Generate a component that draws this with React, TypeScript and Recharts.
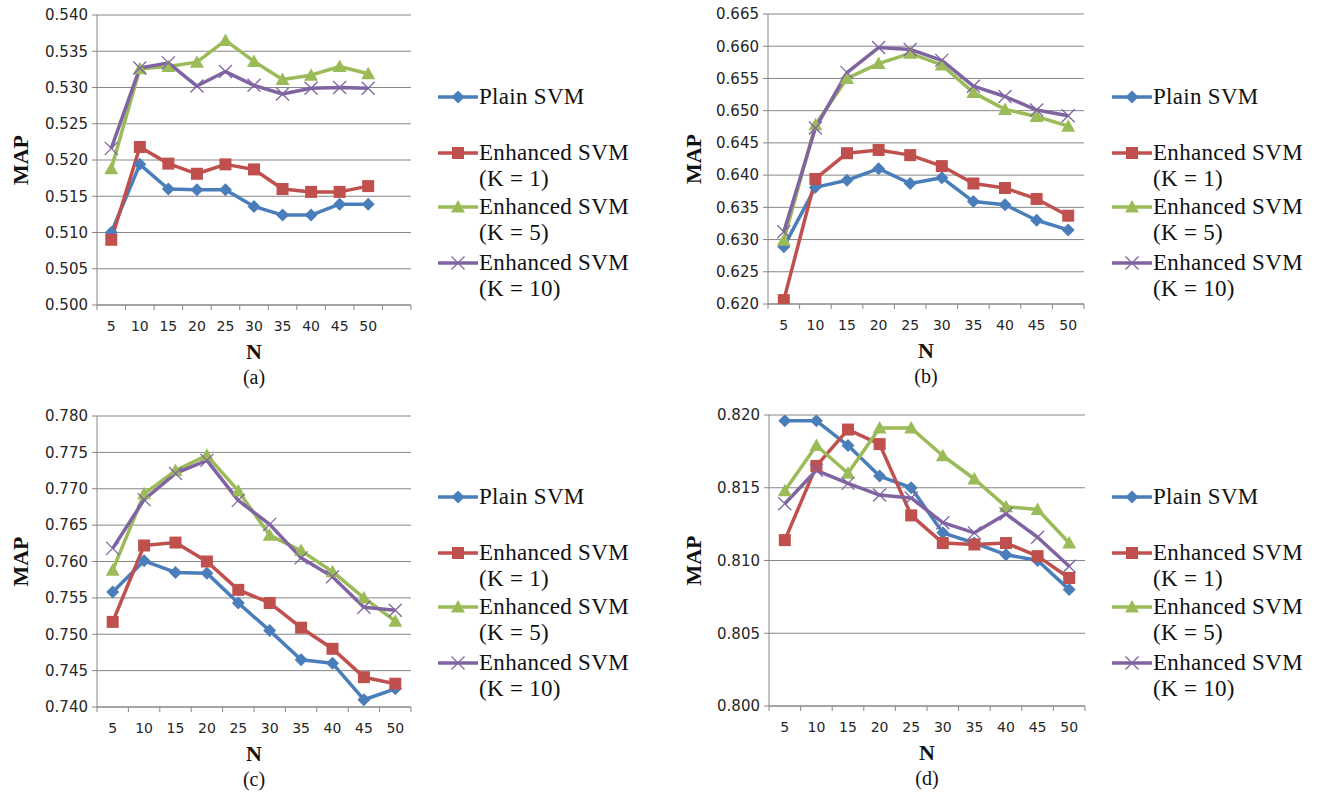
import React from 'react';
import { LineChart, Line, XAxis, YAxis, CartesianGrid } from 'recharts';

// x categories (N)
const nLabels = ['5', '10', '15', '20', '25', '30', '35', '40', '45', '50'];
// chart (a) has one empty slot after 50
const nLabelsA = [...nLabels, ''];

const seriesNames = ['Plain SVM', 'Enhanced SVM (K = 1)', 'Enhanced SVM (K = 5)', 'Enhanced SVM (K = 10)'];
const legendLines = [['Plain SVM'], ['Enhanced SVM', '(K = 1)'], ['Enhanced SVM', '(K = 5)'], ['Enhanced SVM', '(K = 10)']];
const seriesKeys = ['plain', 'k1', 'k5', 'k10'];
const seriesColors = ['#4A7EBB', '#C0504D', '#9BBB59', '#8064A2'];
const seriesMarkers = ['diamond', 'square', 'triangle', 'cross'];

// (a)
const aPlain = [0.5100, 0.5194, 0.5160, 0.5159, 0.5159, 0.5136, 0.5124, 0.5124, 0.5139, 0.5139];
const aK1 = [0.5090, 0.5218, 0.5195, 0.5181, 0.5194, 0.5187, 0.5160, 0.5156, 0.5156, 0.5164];
const aK5 = [0.5188, 0.5326, 0.5329, 0.5335, 0.5365, 0.5336, 0.5311, 0.5317, 0.5329, 0.5319];
const aK10 = [0.5216, 0.5327, 0.5334, 0.5302, 0.5322, 0.5303, 0.5291, 0.5299, 0.5300, 0.5299];
const aTicks = [0.5, 0.505, 0.51, 0.515, 0.52, 0.525, 0.53, 0.535, 0.54];

// (b)
const bPlain = [0.6289, 0.6381, 0.6392, 0.6410, 0.6387, 0.6396, 0.6359, 0.6354, 0.6330, 0.6315];
const bK1 = [0.6206, 0.6394, 0.6434, 0.6439, 0.6431, 0.6414, 0.6387, 0.6380, 0.6363, 0.6337];
const bK5 = [0.6299, 0.6478, 0.6550, 0.6573, 0.6589, 0.6571, 0.6528, 0.6502, 0.6491, 0.6476];
const bK10 = [0.6312, 0.6473, 0.6559, 0.6598, 0.6595, 0.6578, 0.6538, 0.6522, 0.6501, 0.6492];
const bTicks = [0.62, 0.625, 0.63, 0.635, 0.64, 0.645, 0.65, 0.655, 0.66, 0.665];

// (c)
const cPlain = [0.7558, 0.7601, 0.7585, 0.7584, 0.7543, 0.7505, 0.7465, 0.7460, 0.7410, 0.7425];
const cK1 = [0.7517, 0.7622, 0.7626, 0.7600, 0.7561, 0.7543, 0.7509, 0.7480, 0.7441, 0.7432];
const cK5 = [0.7588, 0.7693, 0.7725, 0.7746, 0.7697, 0.7636, 0.7615, 0.7586, 0.7550, 0.7518];
const cK10 = [0.7618, 0.7685, 0.7721, 0.7739, 0.7684, 0.7651, 0.7605, 0.7579, 0.7537, 0.7533];
const cTicks = [0.74, 0.745, 0.75, 0.755, 0.76, 0.765, 0.77, 0.775, 0.78];

// (d)
const dPlain = [0.8196, 0.8196, 0.8179, 0.8158, 0.8150, 0.8119, 0.8112, 0.8104, 0.8100, 0.8080];
const dK1 = [0.8114, 0.8165, 0.8190, 0.8180, 0.8131, 0.8112, 0.8111, 0.8112, 0.8103, 0.8088];
const dK5 = [0.8148, 0.8179, 0.8160, 0.8191, 0.8191, 0.8172, 0.8156, 0.8137, 0.8135, 0.8112];
const dK10 = [0.8139, 0.8162, 0.8153, 0.8145, 0.8143, 0.8126, 0.8119, 0.8132, 0.8116, 0.8096];
const dTicks = [0.8, 0.805, 0.81, 0.815, 0.82];

const AXIS = '#868686';
const SANS = '"DejaVu Sans", Verdana, sans-serif';
const SERIF = '"Liberation Serif", "Times New Roman", serif';

function marker(type: string, cx: number, cy: number, color: string, key?: any) {
  if (cx == null || cy == null || isNaN(cx) || isNaN(cy)) return <g key={key} />;
  if (type === 'diamond')
    return <polygon key={key} points={`${cx},${cy - 6.5} ${cx + 6.5},${cy} ${cx},${cy + 6.5} ${cx - 6.5},${cy}`} fill={color} />;
  if (type === 'square')
    return <rect key={key} x={cx - 6} y={cy - 6} width={12} height={12} fill={color} />;
  if (type === 'triangle')
    return <polygon key={key} points={`${cx},${cy - 7} ${cx + 7},${cy + 5.5} ${cx - 7},${cy + 5.5}`} fill={color} />;
  return (
    <g key={key} stroke={color} strokeWidth={1.3}>
      <line x1={cx - 6.5} y1={cy - 6.5} x2={cx + 6.5} y2={cy + 6.5} />
      <line x1={cx - 6.5} y1={cy + 6.5} x2={cx + 6.5} y2={cy - 6.5} />
    </g>
  );
}

const BoundaryTick = (props: any) => {
  const { x, y, payload, index, band, count } = props;
  const ay = y - 16;
  return (
    <g>
      <line x1={x - band / 2} x2={x - band / 2} y1={ay} y2={ay + 5} stroke={AXIS} />
      {index === count - 1 && <line x1={x + band / 2} x2={x + band / 2} y1={ay} y2={ay + 5} stroke={AXIS} />}
      <text x={x} y={y} dy="0.71em" textAnchor="middle" fontSize={14} fontFamily={SANS} fill="#262626">
        {payload.value}
      </text>
    </g>
  );
};

const MapTitle = (props: any) => {
  const { viewBox, dx } = props;
  const cx = viewBox.x + dx;
  const cy = viewBox.y + viewBox.height / 2;
  return (
    <text x={cx} y={cy} transform={`rotate(-90 ${cx} ${cy})`} textAnchor="middle" dominantBaseline="central"
      fontFamily={SERIF} fontWeight="bold" fontSize={22} fill="#111">
      MAP
    </text>
  );
};

function Legend({ x, top }: { x: number; top: number }) {
  const centers = [97, 153, 207, 263];
  return (
    <>
      {seriesNames.map((name, i) => (
        <div key={name} style={{ position: 'absolute', left: x, top: top + centers[i] - 13 }}>
          <svg width={42} height={26} style={{ position: 'absolute', left: 0, top: 0 }}>
            <line x1={0} x2={40} y1={13} y2={13} stroke={seriesColors[i]} strokeWidth={3.5} />
            {marker(seriesMarkers[i], 20, 13, seriesColors[i])}
          </svg>
          <div style={{ position: 'absolute', left: 41, top: 0, whiteSpace: 'nowrap', fontFamily: SERIF, fontSize: 23, lineHeight: '26px', letterSpacing: 0.3, color: '#111' }}>
            {legendLines[i].map((t) => <div key={t}>{t}</div>)}
          </div>
        </div>
      ))}
    </>
  );
}

type PanelProps = {
  left: number; top: number; x0: number; x1: number; y0: number; y1: number;
  cats: string[]; series: number[][]; ticks: number[]; mapDx: number; legendX: number; caption: string;
};

function Panel(p: PanelProps) {
  const data = p.cats.map((c, i) => {
    const row: any = { n: c };
    seriesKeys.forEach((k, s) => { row[k] = p.series[s][i] ?? null; });
    return row;
  });
  const band = (p.x1 - p.x0) / p.cats.length;
  const width = p.x1 - p.left + 6;
  const height = p.y1 - p.top + 40;
  const cx = (p.x0 + p.x1) / 2;
  return (
    <>
      <div style={{ position: 'absolute', left: p.left, top: p.top }}>
        <LineChart width={width} height={height} data={data} margin={{ top: p.y0 - p.top, right: 6, left: 0, bottom: 0 }}>
          <CartesianGrid vertical={false} stroke={AXIS} strokeWidth={1} />
          <XAxis dataKey="n" scale="band" interval={0} height={40} axisLine={{ stroke: AXIS }} tickLine={false}
            tickSize={5} tickMargin={11} tick={<BoundaryTick band={band} count={p.cats.length} />} />
          <YAxis width={p.x0 - p.left} domain={[p.ticks[0], p.ticks[p.ticks.length - 1]]} ticks={p.ticks}
            allowDataOverflow interval={0} axisLine={{ stroke: AXIS }} tickLine={{ stroke: AXIS }} tickSize={5} tickMargin={4}
            tickFormatter={(v: number) => v.toFixed(3)}
            tick={{ fontSize: 15, fontFamily: SANS, fill: '#262626' }}
            label={<MapTitle dx={p.mapDx} />} />
          {seriesKeys.map((k, i) => (
            <Line key={k} dataKey={k} name={seriesNames[i]} stroke={seriesColors[i]} strokeWidth={3.5} type="linear"
              isAnimationActive={false} activeDot={false} strokeLinejoin="round"
              dot={(d: any) => marker(seriesMarkers[i], d.cx, d.cy, seriesColors[i], `${k}-${d.index}`)} />
          ))}
        </LineChart>
      </div>
      <div style={{ position: 'absolute', left: cx - 50, width: 100, top: p.y1 + 34, textAlign: 'center', fontFamily: SERIF, fontWeight: 'bold', fontSize: 22, lineHeight: '26px', color: '#111' }}>N</div>
      <div style={{ position: 'absolute', left: cx - 50, width: 100, top: p.y1 + 60, textAlign: 'center', fontFamily: SERIF, fontSize: 20, lineHeight: '24px', color: '#111' }}>{p.caption}</div>
      <Legend x={p.legendX} top={p.top} />
    </>
  );
}

export default function App() {
  return (
    <div style={{ position: 'absolute', left: 0, top: 0, width: 1320, height: 792, background: '#fff', overflow: 'hidden' }}>
      <Panel left={0} top={0} x0={97} x1={411} y0={15} y1={305} cats={nLabelsA}
        series={[aPlain, aK1, aK5, aK10]} ticks={aTicks} mapDx={20} legendX={438} caption="(a)" />
      <Panel left={660} top={0} x0={768} x1={1084} y0={14} y1={304} cats={nLabels}
        series={[bPlain, bK1, bK5, bK10]} ticks={bTicks} mapDx={33} legendX={1112} caption="(b)" />
      <Panel left={0} top={400} x0={97} x1={411} y0={416} y1={707} cats={nLabels}
        series={[cPlain, cK1, cK5, cK10]} ticks={cTicks} mapDx={20} legendX={438} caption="(c)" />
      <Panel left={660} top={400} x0={769} x1={1085} y0={415} y1={706} cats={nLabels}
        series={[dPlain, dK1, dK5, dK10]} ticks={dTicks} mapDx={33} legendX={1112} caption="(d)" />
    </div>
  );
}
